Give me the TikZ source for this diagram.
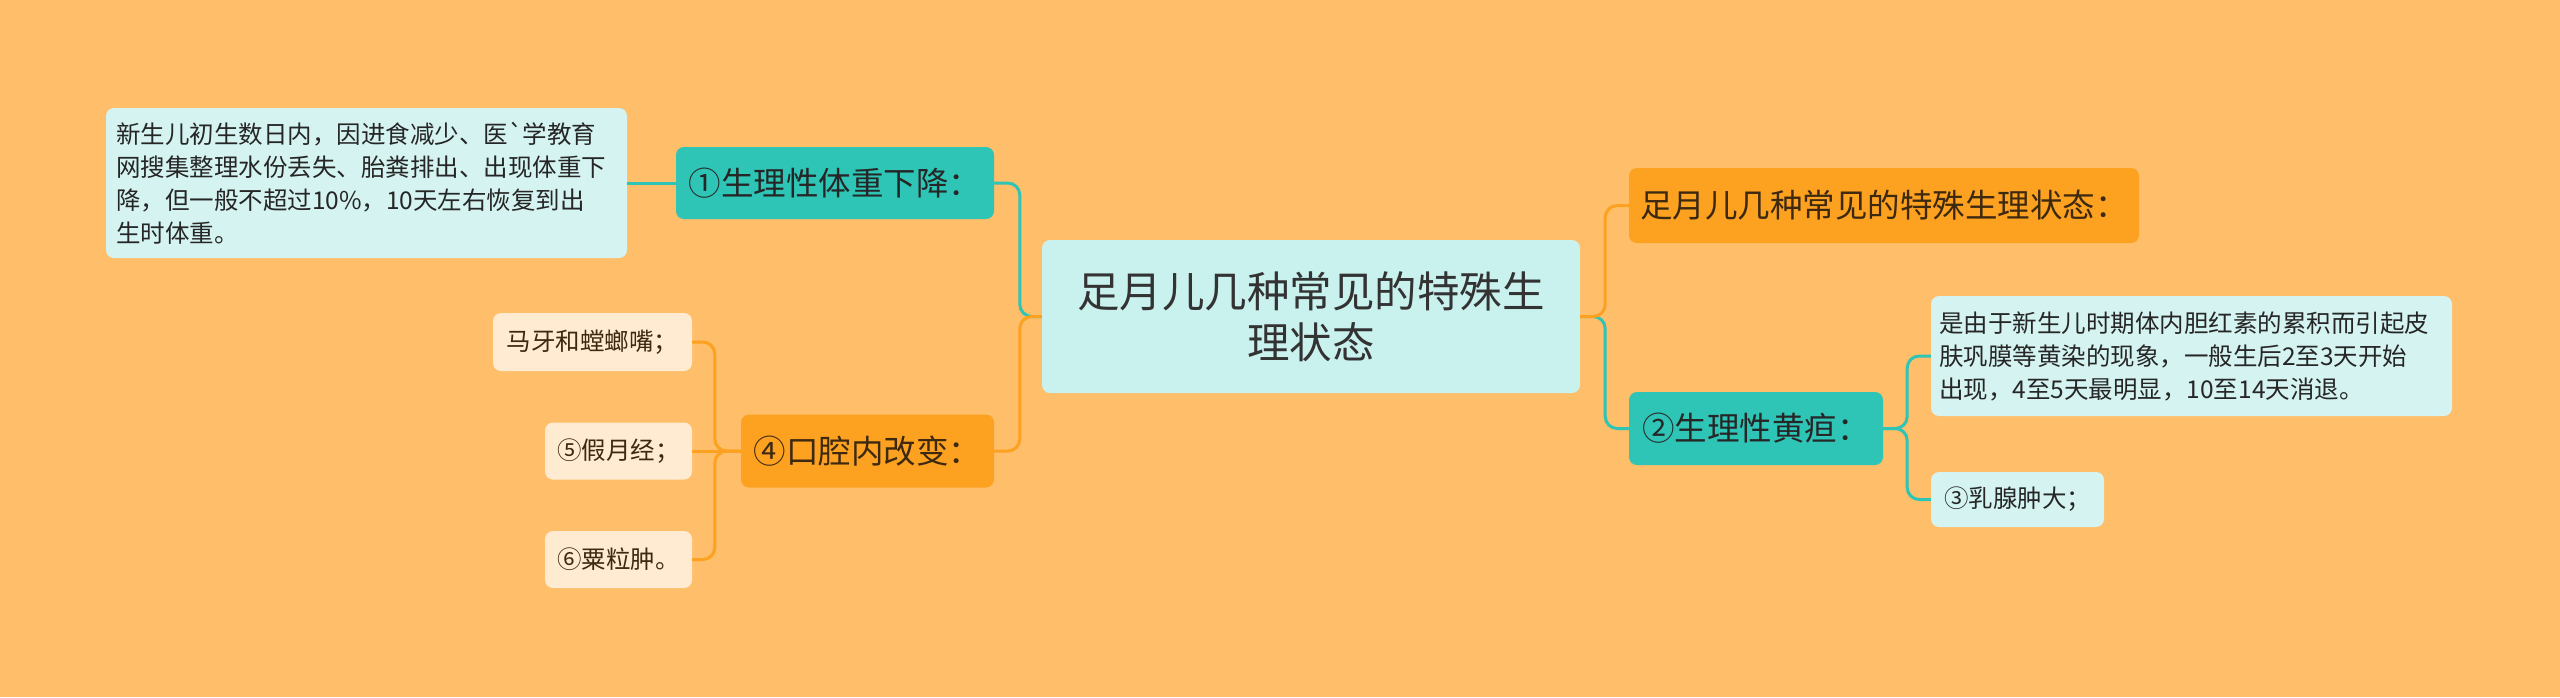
\documentclass[tikz,border=0pt]{standalone}
\usepackage{fontspec}
\newfontfamily\cjk{Noto Sans CJK SC}
\definecolor{bg}{HTML}{FEBE6A}
\definecolor{tealc}{HTML}{2EC4B6}
\definecolor{orangec}{HTML}{FCA120}
\definecolor{centerfill}{HTML}{C9F2EE}
\definecolor{tealleaf}{HTML}{D5F4F1}
\definecolor{orangeleaf}{HTML}{FEEBD2}
\definecolor{txt}{HTML}{333333}
\definecolor{browntxt}{HTML}{3D2810}
\tikzset{
  box/.style={rounded corners=8pt, inner sep=0pt, align=center, text=txt},
  bigfont/.style={font=\cjk\fontsize{42.5}{51}\selectfont},
  midfont/.style={font=\cjk\fontsize{32.5}{38}\selectfont},
  smallfont/.style={font=\cjk\fontsize{24.5}{33}\selectfont},
  tealnode/.style={box, fill=tealc, midfont, text=black!85},
  orangenode/.style={box, fill=orangec, midfont, text=browntxt},
  tleaf/.style={box, fill=tealleaf, smallfont, text=black!85},
  oleaf/.style={box, fill=orangeleaf, smallfont, text=browntxt},
  tline/.style={draw=tealc, line width=3pt, rounded corners=12pt},
  oline/.style={draw=orangec, line width=3pt, rounded corners=12pt},
}
\begin{document}
\begin{tikzpicture}[x=1pt,y=-1pt]
\fill[bg] (0,0) rectangle (2560,697);
\useasboundingbox (0,0) rectangle (2560,697);

% center
\node[box, fill=centerfill, bigfont, minimum width=538pt, minimum height=153pt] (c) at (1311,316.5) {足月儿几种常见的特殊生\\理状态};

% left branch 1
\node[tealnode, minimum width=318pt, minimum height=72pt] (n1) at (835,183) {①生理性体重下降：};
\node[tleaf, align=left, text width=501pt, minimum width=521pt, minimum height=150pt, inner xsep=10pt] (L1) at (366.5,183)
  {新生儿初生数日内，因进食减少、医`学教育\\网搜集整理水份丢失、胎粪排出、出现体重下\\降，但一般不超过10\%，10天左右恢复到出\\生时体重。};

% left branch 4
\node[orangenode, minimum width=253pt, minimum height=73pt] (n4) at (867.5,451) {④口腔内改变：};
\node[oleaf, minimum width=199pt, minimum height=58pt] (a1) at (592.5,342) {马牙和螳螂嘴；};
\node[oleaf, minimum width=147pt, minimum height=57pt] (a2) at (618.5,451) {⑤假月经；};
\node[oleaf, minimum width=147pt, minimum height=57pt] (a3) at (618.5,559.5) {⑥粟粒肿。};

% right branches
\node[orangenode, minimum width=510pt, minimum height=75pt] (r1) at (1884,205.5) {足月儿几种常见的特殊生理状态：};
\node[tealnode, minimum width=254pt, minimum height=73pt] (r2) at (1756,428.5) {②生理性黄疸：};
\node[tleaf, align=left, text width=505pt, minimum width=521pt, minimum height=120pt, inner xsep=8pt] (b1) at (2191.5,356)
  {是由于新生儿时期体内胆红素的累积而引起皮\\肤巩膜等黄染的现象，一般生后2至3天开始\\出现，4至5天最明显，10至14天消退。};
\node[tleaf, minimum width=173pt, minimum height=55pt] (b2) at (2017.5,499.5) {③乳腺肿大；};

% connectors
\draw[tline] (c.west) -- ++(-22,0) |- (n1.east);
\draw[oline] (c.west) -- ++(-22,0) |- (n4.east);
\draw[tline] (n1.west) -- (L1.east);
\draw[oline] (n4.west) -- ++(-26,0) |- (a1.east);
\draw[oline] (n4.west) -- (a2.east);
\draw[oline] (n4.west) -- ++(-26,0) |- (a3.east);
\draw[tline] (c.east) -- ++(25,0) |- (r2.west);
\draw[oline] (c.east) -- ++(25,0) |- (r1.west);
\draw[tline] (r2.east) -- ++(24,0) |- (b1.west);
\draw[tline] (r2.east) -- ++(24,0) |- (b2.west);
\end{tikzpicture}
\end{document}
